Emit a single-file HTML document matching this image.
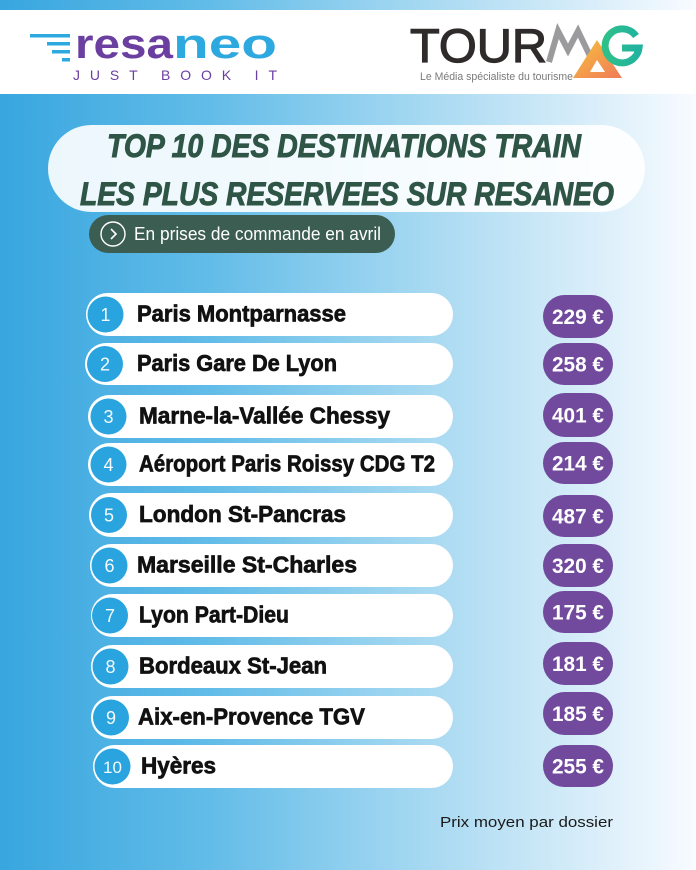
<!DOCTYPE html>
<html><head><meta charset="utf-8"><style>
html,body{margin:0;padding:0;width:696px;height:870px;overflow:hidden}
svg{display:block}
text{font-family:"Liberation Sans",sans-serif}
</style></head><body>
<svg width="696" height="870" viewBox="0 0 696 870" xmlns="http://www.w3.org/2000/svg">
<defs>
<linearGradient id="bg" x1="0" y1="0" x2="1" y2="0">
<stop offset="0" stop-color="#38a6df"/>
<stop offset="0.3" stop-color="#62bce8"/>
<stop offset="0.5" stop-color="#8fcfee"/>
<stop offset="0.75" stop-color="#c4e5f6"/>
<stop offset="1" stop-color="#f8fbff"/>
</linearGradient>
<linearGradient id="ag" x1="0" y1="0" x2="1" y2="1">
<stop offset="0" stop-color="#f7c23a"/>
<stop offset="1" stop-color="#f07a5a"/>
</linearGradient>
<linearGradient id="gg" x1="0" y1="0" x2="1" y2="0">
<stop offset="0" stop-color="#2fc08a"/>
<stop offset="1" stop-color="#21b2a0"/>
</linearGradient>
</defs>
<rect width="696" height="870" fill="url(#bg)"/>
<rect x="0" y="10" width="696" height="84" fill="#ffffff"/>

<!-- resaneo logo -->
<g fill="#2ea9e0">
<rect x="30" y="34" width="40" height="3.5"/>
<rect x="47" y="42" width="23" height="3.5"/>
<rect x="52" y="50" width="18" height="3.5"/>
<rect x="62" y="58" width="8" height="3.5"/>
</g>
<text x="75" y="58" font-size="42" font-weight="bold" fill="#6b3fa0" textLength="98" lengthAdjust="spacingAndGlyphs">resa</text>
<text x="173" y="58" font-size="42" font-weight="bold" fill="#2ea9e0" textLength="104" lengthAdjust="spacingAndGlyphs">neo</text>
<text x="73" y="80" font-size="14" fill="#6b3fa0" textLength="204" lengthAdjust="spacing">JUST BOOK IT</text>

<!-- TOURMAG logo -->
<text x="410" y="62" font-size="47" fill="#2f2b2b" stroke="#2f2b2b" stroke-width="1.2" textLength="137" lengthAdjust="spacingAndGlyphs">TOUR</text>
<polyline points="549,62 558,31 568,50 578,31 590,56" fill="none" stroke="#9b9b9d" stroke-width="6" stroke-linejoin="miter"/>
<path d="M573,78 L597,40 L622,78 Z M590,72 L597,60 L605,72 Z" fill="url(#ag)" fill-rule="evenodd"/>
<path d="M636,36 A17,17 0 1 0 639,48 L622,48" fill="none" stroke="url(#gg)" stroke-width="7"/>
<text x="420" y="80" font-size="11" fill="#7a7a7a" textLength="153" lengthAdjust="spacingAndGlyphs">Le Média spécialiste du tourisme</text>

<!-- Title pill -->
<rect x="48" y="125" width="597" height="87" rx="43.5" fill="#ffffff" fill-opacity="0.9"/>
<g fill="#2f5546" stroke="#2f5546" stroke-width="0.9" font-size="32" font-weight="bold" font-style="italic">
<text x="107" y="157" textLength="474" lengthAdjust="spacingAndGlyphs">TOP 10 DES DESTINATIONS TRAIN</text>
<text x="80" y="205" textLength="534" lengthAdjust="spacingAndGlyphs">LES PLUS RESERVEES SUR RESANEO</text>
</g>

<!-- Sub pill -->
<rect x="89" y="215" width="306" height="38" rx="19" fill="#3c5d52"/>
<circle cx="113" cy="234" r="12" fill="none" stroke="#ffffff" stroke-width="1.4"/>
<polyline points="111,229 116,234 111,239" fill="none" stroke="#ffffff" stroke-width="1.6"/>
<text x="134" y="240" font-size="18" fill="#ffffff" textLength="247" lengthAdjust="spacingAndGlyphs">En prises de commande en avril</text>

<!-- Rows -->
<g>
<rect x="86" y="293" width="367" height="43" rx="21.5" fill="#fff"/>
<rect x="85" y="343" width="368" height="42" rx="21" fill="#fff"/>
<rect x="88" y="395" width="365" height="43" rx="21.5" fill="#fff"/>
<rect x="88" y="443" width="365" height="43" rx="21.5" fill="#fff"/>
<rect x="89" y="493" width="364" height="44" rx="22" fill="#fff"/>
<rect x="90" y="544" width="363" height="43" rx="21.5" fill="#fff"/>
<rect x="91" y="594" width="362" height="43" rx="21.5" fill="#fff"/>
<rect x="91" y="645" width="362" height="43" rx="21.5" fill="#fff"/>
<rect x="91" y="696" width="362" height="43" rx="21.5" fill="#fff"/>
<rect x="93" y="745" width="360" height="43" rx="21.5" fill="#fff"/>
</g>
<g fill="#2aa4de">
<circle cx="105.5" cy="314.5" r="18"/>
<circle cx="105" cy="364" r="18"/>
<circle cx="108.5" cy="416.5" r="18"/>
<circle cx="108.5" cy="464.5" r="18"/>
<circle cx="109" cy="515" r="18"/>
<circle cx="109.5" cy="565.5" r="18"/>
<circle cx="110" cy="615.5" r="18"/>
<circle cx="110.5" cy="666.5" r="18"/>
<circle cx="111" cy="717.5" r="18"/>
<circle cx="112.5" cy="766.5" r="18"/>
</g>
<g fill="#fff" font-size="18" text-anchor="middle" fill-opacity="0.95">
<text x="105.5" y="321">1</text>
<text x="105" y="370.5">2</text>
<text x="108.5" y="423">3</text>
<text x="108.5" y="471">4</text>
<text x="109" y="521.5">5</text>
<text x="109.5" y="572">6</text>
<text x="110" y="622">7</text>
<text x="110.5" y="673">8</text>
<text x="111" y="724">9</text>
<text x="112.5" y="773" font-size="17">10</text>
</g>
<g fill="#111" stroke="#111" stroke-width="0.7" font-size="23" font-weight="bold">
<text x="137" y="321.5" textLength="209" lengthAdjust="spacingAndGlyphs">Paris Montparnasse</text>
<text x="137" y="371" textLength="200" lengthAdjust="spacingAndGlyphs">Paris Gare De Lyon</text>
<text x="139" y="423.5" textLength="251" lengthAdjust="spacingAndGlyphs">Marne-la-Vallée Chessy</text>
<text x="139" y="471.5" textLength="296" lengthAdjust="spacingAndGlyphs">Aéroport Paris Roissy CDG T2</text>
<text x="139" y="522" textLength="207" lengthAdjust="spacingAndGlyphs">London St-Pancras</text>
<text x="137" y="572.5" textLength="220" lengthAdjust="spacingAndGlyphs">Marseille St-Charles</text>
<text x="139" y="622.5" textLength="150" lengthAdjust="spacingAndGlyphs">Lyon Part-Dieu</text>
<text x="139" y="673.5" textLength="188" lengthAdjust="spacingAndGlyphs">Bordeaux St-Jean</text>
<text x="138" y="724.5" textLength="227" lengthAdjust="spacingAndGlyphs">Aix-en-Provence TGV</text>
<text x="141" y="773.5" textLength="75" lengthAdjust="spacingAndGlyphs">Hyères</text>
</g>

<!-- Prices -->
<g fill="#714a9d">
<rect x="543" y="295" width="70" height="43" rx="21.5"/>
<rect x="543" y="343" width="70" height="42" rx="21"/>
<rect x="543" y="393" width="70" height="44" rx="22"/>
<rect x="543" y="442" width="70" height="42" rx="21"/>
<rect x="543" y="495" width="70" height="42" rx="21"/>
<rect x="543" y="544" width="70" height="43" rx="21.5"/>
<rect x="543" y="591" width="70" height="42" rx="21"/>
<rect x="543" y="642" width="70" height="43" rx="21.5"/>
<rect x="543" y="692" width="70" height="43" rx="21.5"/>
<rect x="543" y="745" width="70" height="42" rx="21"/>
</g>
<g fill="#fff" font-size="21" font-weight="bold">
<text x="552" y="324" textLength="52" lengthAdjust="spacingAndGlyphs">229 €</text>
<text x="552" y="371.5" textLength="52" lengthAdjust="spacingAndGlyphs">258 €</text>
<text x="552" y="422.5" textLength="52" lengthAdjust="spacingAndGlyphs">401 €</text>
<text x="552" y="470.5" textLength="52" lengthAdjust="spacingAndGlyphs">214 €</text>
<text x="552" y="523.5" textLength="52" lengthAdjust="spacingAndGlyphs">487 €</text>
<text x="552" y="573" textLength="52" lengthAdjust="spacingAndGlyphs">320 €</text>
<text x="552" y="619.5" textLength="52" lengthAdjust="spacingAndGlyphs">175 €</text>
<text x="552" y="671" textLength="52" lengthAdjust="spacingAndGlyphs">181 €</text>
<text x="552" y="721" textLength="52" lengthAdjust="spacingAndGlyphs">185 €</text>
<text x="552" y="773.5" textLength="52" lengthAdjust="spacingAndGlyphs">255 €</text>
</g>

<text x="440" y="827" font-size="15" fill="#1a1a1a" textLength="173" lengthAdjust="spacingAndGlyphs">Prix moyen par dossier</text>
</svg>
</body></html>
